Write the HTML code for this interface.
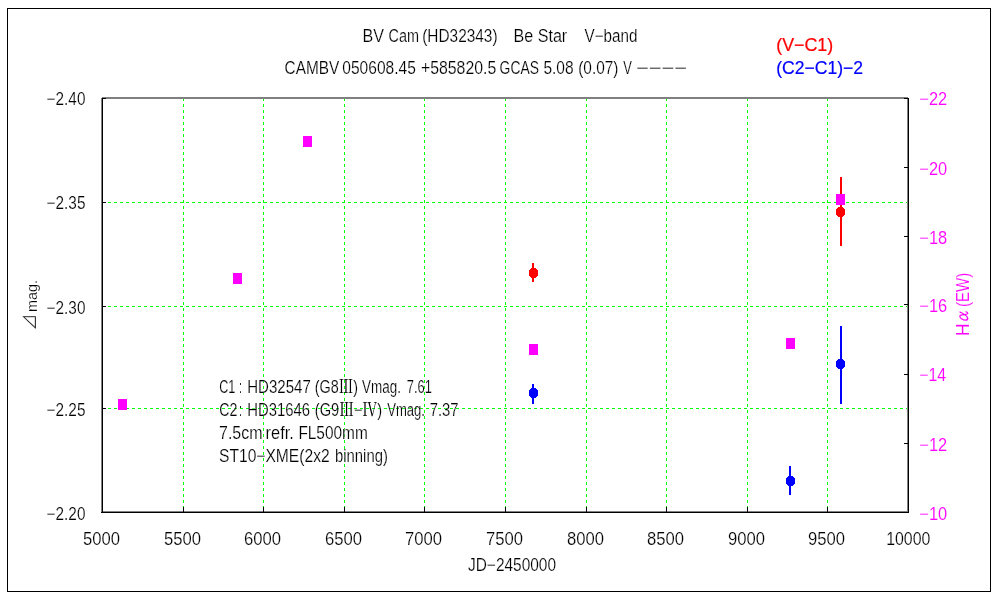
<!DOCTYPE html>
<html lang="ja"><head><meta charset="utf-8"><title>BV Cam (HD32343) Be Star V-band</title>
<style>
html,body{margin:0;padding:0;background:#ffffff;}
body{width:1000px;height:600px;overflow:hidden;}
svg{display:block;will-change:transform;transform:translateZ(0);}
text{font-family:"Liberation Sans","IPAGothic",sans-serif;font-size:18px;fill:#000000;}
.g line{stroke:#00ff00;stroke-width:1;stroke-dasharray:3 3;}
.k{fill:#000000;} .gy{fill:#808080;}
.m{fill:#ff00ff;} .r{fill:#ff0000;} .b{fill:#0000ff;}
.bold{stroke-width:0.2px;}
.thin{stroke:#ffffff;stroke-width:0.2px;}
.j{font-family:"IPAGothic",sans-serif;}
.rn{font-family:"Noto Serif CJK SC","IPAGothic",serif;stroke-width:0;}
.ns{stroke-width:0;}
.thinc{stroke:#ffffff;stroke-width:0.1px;}
</style></head><body>
<svg width="1000" height="600" viewBox="0 0 1000 600">
<rect x="0" y="0" width="1000" height="600" fill="#ffffff"/>
<g shape-rendering="crispEdges">
<rect x="7.5" y="8.5" width="983" height="583" fill="none" stroke="#000000" stroke-width="1"/>
</g>
<g class="g" shape-rendering="crispEdges">
<line x1="102" y1="202.5" x2="908" y2="202.5"/>
<line x1="102" y1="306.5" x2="908" y2="306.5"/>
<line x1="102" y1="408.5" x2="908" y2="408.5"/>
<line x1="183.5" y1="98" x2="183.5" y2="512"/>
<line x1="263.5" y1="98" x2="263.5" y2="512"/>
<line x1="344.5" y1="98" x2="344.5" y2="512"/>
<line x1="424.5" y1="98" x2="424.5" y2="512"/>
<line x1="505.5" y1="98" x2="505.5" y2="512"/>
<line x1="586.5" y1="98" x2="586.5" y2="512"/>
<line x1="666.5" y1="98" x2="666.5" y2="512"/>
<line x1="747.5" y1="98" x2="747.5" y2="512"/>
<line x1="827.5" y1="98" x2="827.5" y2="512"/>
</g>
<g shape-rendering="crispEdges">
<rect class="gy" x="102" y="97" width="806" height="2"/>
<rect class="gy" x="907" y="98" width="1" height="414"/>
<rect class="gy" x="101" y="98" width="1" height="415"/>
<rect class="gy" x="103" y="511" width="805" height="1"/>
</g>
<g class="k" shape-rendering="crispEdges">
<rect x="102" y="98" width="1" height="415"/>
<rect x="908" y="98" width="1" height="415"/>
<rect x="101" y="512" width="808" height="1"/>
<rect x="103" y="98" width="3" height="1"/>
<rect x="103" y="202" width="3" height="1"/>
<rect x="103" y="306" width="3" height="1"/>
<rect x="103" y="408" width="3" height="1"/>
<rect x="904" y="98" width="4" height="1"/>
<rect x="904" y="167" width="4" height="1"/>
<rect x="904" y="236" width="4" height="1"/>
<rect x="904" y="304" width="4" height="1"/>
<rect x="904" y="374" width="4" height="1"/>
<rect x="904" y="443" width="4" height="1"/>
<rect x="183" y="507" width="1" height="5"/>
<rect x="263" y="507" width="1" height="5"/>
<rect x="344" y="507" width="1" height="5"/>
<rect x="424" y="507" width="1" height="5"/>
<rect x="505" y="507" width="1" height="5"/>
<rect x="586" y="507" width="1" height="5"/>
<rect x="666" y="507" width="1" height="5"/>
<rect x="747" y="507" width="1" height="5"/>
<rect x="827" y="507" width="1" height="5"/>
</g>
<g shape-rendering="crispEdges">
<rect class="r" x="532" y="263" width="2" height="19"/>
<path class="r" d="M531 268h5v1h1v1h1v6h-1v1h-1v1h-5v-1h-1v-1h-1v-6h1v-1h1z"/>
<rect class="r" x="840" y="177" width="2" height="69"/>
<path class="r" d="M838 207h5v1h1v1h1v6h-1v1h-1v1h-5v-1h-1v-1h-1v-6h1v-1h1z"/>
<rect class="b" x="532" y="384" width="2" height="20"/>
<path class="b" d="M531 388h5v1h1v1h1v6h-1v1h-1v1h-5v-1h-1v-1h-1v-6h1v-1h1z"/>
<rect class="b" x="789" y="466" width="2" height="29"/>
<path class="b" d="M788 476h5v1h1v1h1v6h-1v1h-1v1h-5v-1h-1v-1h-1v-6h1v-1h1z"/>
<rect class="b" x="840" y="326" width="2" height="78"/>
<path class="b" d="M838 359h5v1h1v1h1v6h-1v1h-1v1h-5v-1h-1v-1h-1v-6h1v-1h1z"/>
<rect class="m" x="118" y="399" width="9" height="11"/>
<rect class="m" x="233" y="273" width="9" height="11"/>
<rect class="m" x="303" y="136" width="9" height="11"/>
<rect class="m" x="529" y="344" width="9" height="11"/>
<rect class="m" x="786" y="338" width="9" height="11"/>
<rect class="m" x="836" y="194" width="9" height="11"/>
</g>
<g>
<text y="42.00" class="thin"><tspan x="362.60" textLength="21.45" lengthAdjust="spacingAndGlyphs">BV</tspan> <tspan x="388.60" textLength="30.47" lengthAdjust="spacingAndGlyphs">Cam</tspan> <tspan x="422.20" textLength="75.34" lengthAdjust="spacingAndGlyphs">(HD32343)</tspan> <tspan x="513.60" textLength="53.62" lengthAdjust="spacingAndGlyphs">Be Star</tspan> <tspan x="584.50" textLength="52.93" lengthAdjust="spacingAndGlyphs">V−band</tspan></text>
<text y="74.00" class="thin"><tspan x="284.60" textLength="54.72" lengthAdjust="spacingAndGlyphs">CAMBV</tspan> <tspan x="342.30" textLength="73.52" lengthAdjust="spacingAndGlyphs">050608.45</tspan> <tspan x="420.90" textLength="75.32" lengthAdjust="spacingAndGlyphs">+585820.5</tspan> <tspan x="499.60" textLength="39.41" lengthAdjust="spacingAndGlyphs">GCAS</tspan> <tspan x="543.40" textLength="30.20" lengthAdjust="spacingAndGlyphs">5.08</tspan> <tspan x="578.20" textLength="40.25" lengthAdjust="spacingAndGlyphs">(0.07)</tspan> <tspan x="623.20" textLength="8.61" lengthAdjust="spacingAndGlyphs">V</tspan> <tspan x="635.90" textLength="51.13" lengthAdjust="spacingAndGlyphs">−−−−</tspan></text>
<text x="776.20" y="51.00" textLength="57.05" lengthAdjust="spacingAndGlyphs" class="bold" style="fill:#ff0000;" stroke="#ff0000">(V−C1)</text>
<text x="776.20" y="74.00" textLength="86.83" lengthAdjust="spacingAndGlyphs" class="bold" style="fill:#0000ff;" stroke="#0000ff">(C2−C1)−2</text>
<text x="46.60" y="105.00" textLength="38.82" lengthAdjust="spacingAndGlyphs" class="thin">−2.40</text>
<text x="46.60" y="209.00" textLength="38.82" lengthAdjust="spacingAndGlyphs" class="thin">−2.35</text>
<text x="46.60" y="314.00" textLength="38.82" lengthAdjust="spacingAndGlyphs" class="thin">−2.30</text>
<text x="46.60" y="416.00" textLength="38.82" lengthAdjust="spacingAndGlyphs" class="thin">−2.25</text>
<text x="46.60" y="520.00" textLength="38.82" lengthAdjust="spacingAndGlyphs" class="thin">−2.20</text>
<text x="919.30" y="105.00" textLength="27.90" lengthAdjust="spacingAndGlyphs" class="thinc" style="fill:#ff00ff;">−22</text>
<text x="919.30" y="175.00" textLength="27.90" lengthAdjust="spacingAndGlyphs" class="thinc" style="fill:#ff00ff;">−20</text>
<text x="919.30" y="244.00" textLength="27.90" lengthAdjust="spacingAndGlyphs" class="thinc" style="fill:#ff00ff;">−18</text>
<text x="919.30" y="312.00" textLength="27.90" lengthAdjust="spacingAndGlyphs" class="thinc" style="fill:#ff00ff;">−16</text>
<text x="919.30" y="381.00" textLength="26.87" lengthAdjust="spacingAndGlyphs" class="thinc" style="fill:#ff00ff;">−14</text>
<text x="919.30" y="451.00" textLength="27.90" lengthAdjust="spacingAndGlyphs" class="thinc" style="fill:#ff00ff;">−12</text>
<text x="919.30" y="520.00" textLength="27.90" lengthAdjust="spacingAndGlyphs" class="thinc" style="fill:#ff00ff;">−10</text>
<text x="83.10" y="545.00" textLength="37.03" lengthAdjust="spacingAndGlyphs" class="thin">5000</text>
<text x="164.10" y="545.00" textLength="37.03" lengthAdjust="spacingAndGlyphs" class="thin">5500</text>
<text x="244.10" y="545.00" textLength="37.03" lengthAdjust="spacingAndGlyphs" class="thin">6000</text>
<text x="325.10" y="545.00" textLength="37.03" lengthAdjust="spacingAndGlyphs" class="thin">6500</text>
<text x="405.10" y="545.00" textLength="37.03" lengthAdjust="spacingAndGlyphs" class="thin">7000</text>
<text x="486.10" y="545.00" textLength="37.03" lengthAdjust="spacingAndGlyphs" class="thin">7500</text>
<text x="567.10" y="545.00" textLength="37.03" lengthAdjust="spacingAndGlyphs" class="thin">8000</text>
<text x="647.10" y="545.00" textLength="37.03" lengthAdjust="spacingAndGlyphs" class="thin">8500</text>
<text x="728.10" y="545.00" textLength="37.03" lengthAdjust="spacingAndGlyphs" class="thin">9000</text>
<text x="808.10" y="545.00" textLength="37.03" lengthAdjust="spacingAndGlyphs" class="thin">9500</text>
<text x="886.20" y="545.00" textLength="44.22" lengthAdjust="spacingAndGlyphs" class="thin">10000</text>
<text x="468.00" y="571.00" textLength="88.00" lengthAdjust="spacingAndGlyphs" class="thin">JD−2450000</text>
<text y="392.70" class="thin"><tspan x="219.25" textLength="16.14" lengthAdjust="spacingAndGlyphs">C1</tspan> <tspan x="239.30" textLength="2.56" lengthAdjust="spacingAndGlyphs" class="ns">:</tspan> <tspan x="247.25" textLength="63.54" lengthAdjust="spacingAndGlyphs">HD32547</tspan> <tspan x="314.80" textLength="43.28" lengthAdjust="spacingAndGlyphs">(G8<tspan class="rn">Ⅲ</tspan>)</tspan> <tspan x="362.10" textLength="38.81" lengthAdjust="spacingAndGlyphs">Vmag.</tspan> <tspan x="406.80" textLength="25.18" lengthAdjust="spacingAndGlyphs">7.61</tspan></text>
<text y="416.00" class="thin"><tspan x="219.25" textLength="18.14" lengthAdjust="spacingAndGlyphs">C2</tspan> <tspan x="239.30" textLength="2.56" lengthAdjust="spacingAndGlyphs" class="ns">:</tspan> <tspan x="247.25" textLength="62.78" lengthAdjust="spacingAndGlyphs">HD31646</tspan> <tspan x="314.80" textLength="67.25" lengthAdjust="spacingAndGlyphs">(G9<tspan class="rn">Ⅲ</tspan>−<tspan class="rn">Ⅳ</tspan>)</tspan> <tspan x="387.20" textLength="37.73" lengthAdjust="spacingAndGlyphs">Vmag.</tspan> <tspan x="429.70" textLength="28.96" lengthAdjust="spacingAndGlyphs">7.37</tspan></text>
<text y="439.00" class="thin"><tspan x="219.00" textLength="43.50" lengthAdjust="spacingAndGlyphs">7.5cm</tspan> <tspan x="265.60" textLength="28.21" lengthAdjust="spacingAndGlyphs">refr.</tspan> <tspan x="298.40" textLength="69.36" lengthAdjust="spacingAndGlyphs">FL500mm</tspan></text>
<text y="462.00" class="thin"><tspan x="219.00" textLength="110.63" lengthAdjust="spacingAndGlyphs">ST10−XME(2x2</tspan> <tspan x="335.00" textLength="52.85" lengthAdjust="spacingAndGlyphs">binning)</tspan></text>
<text transform="translate(35.70 330.20) rotate(-90)" class="thin" style="font-size:17px;"><tspan x="0.00" y="0.00" textLength="15.94" lengthAdjust="spacingAndGlyphs"><tspan class="j">⊿</tspan></tspan><tspan x="18.20" y="0.80" textLength="32.06" lengthAdjust="spacingAndGlyphs" style="font-size:15px">mag.</tspan></text>
<text transform="translate(969.00 335.90) rotate(-90)" class="thinc" style="fill:#ff00ff;"><tspan x="0.00" y="0.00" textLength="12.59" lengthAdjust="spacingAndGlyphs">H</tspan><tspan x="12.00" y="0.00" textLength="16.13" lengthAdjust="spacingAndGlyphs"><tspan class="j">α</tspan></tspan><tspan x="28.90" y="0.00" textLength="34.26" lengthAdjust="spacingAndGlyphs">(EW)</tspan></text>
</g>
</svg>
</body></html>
